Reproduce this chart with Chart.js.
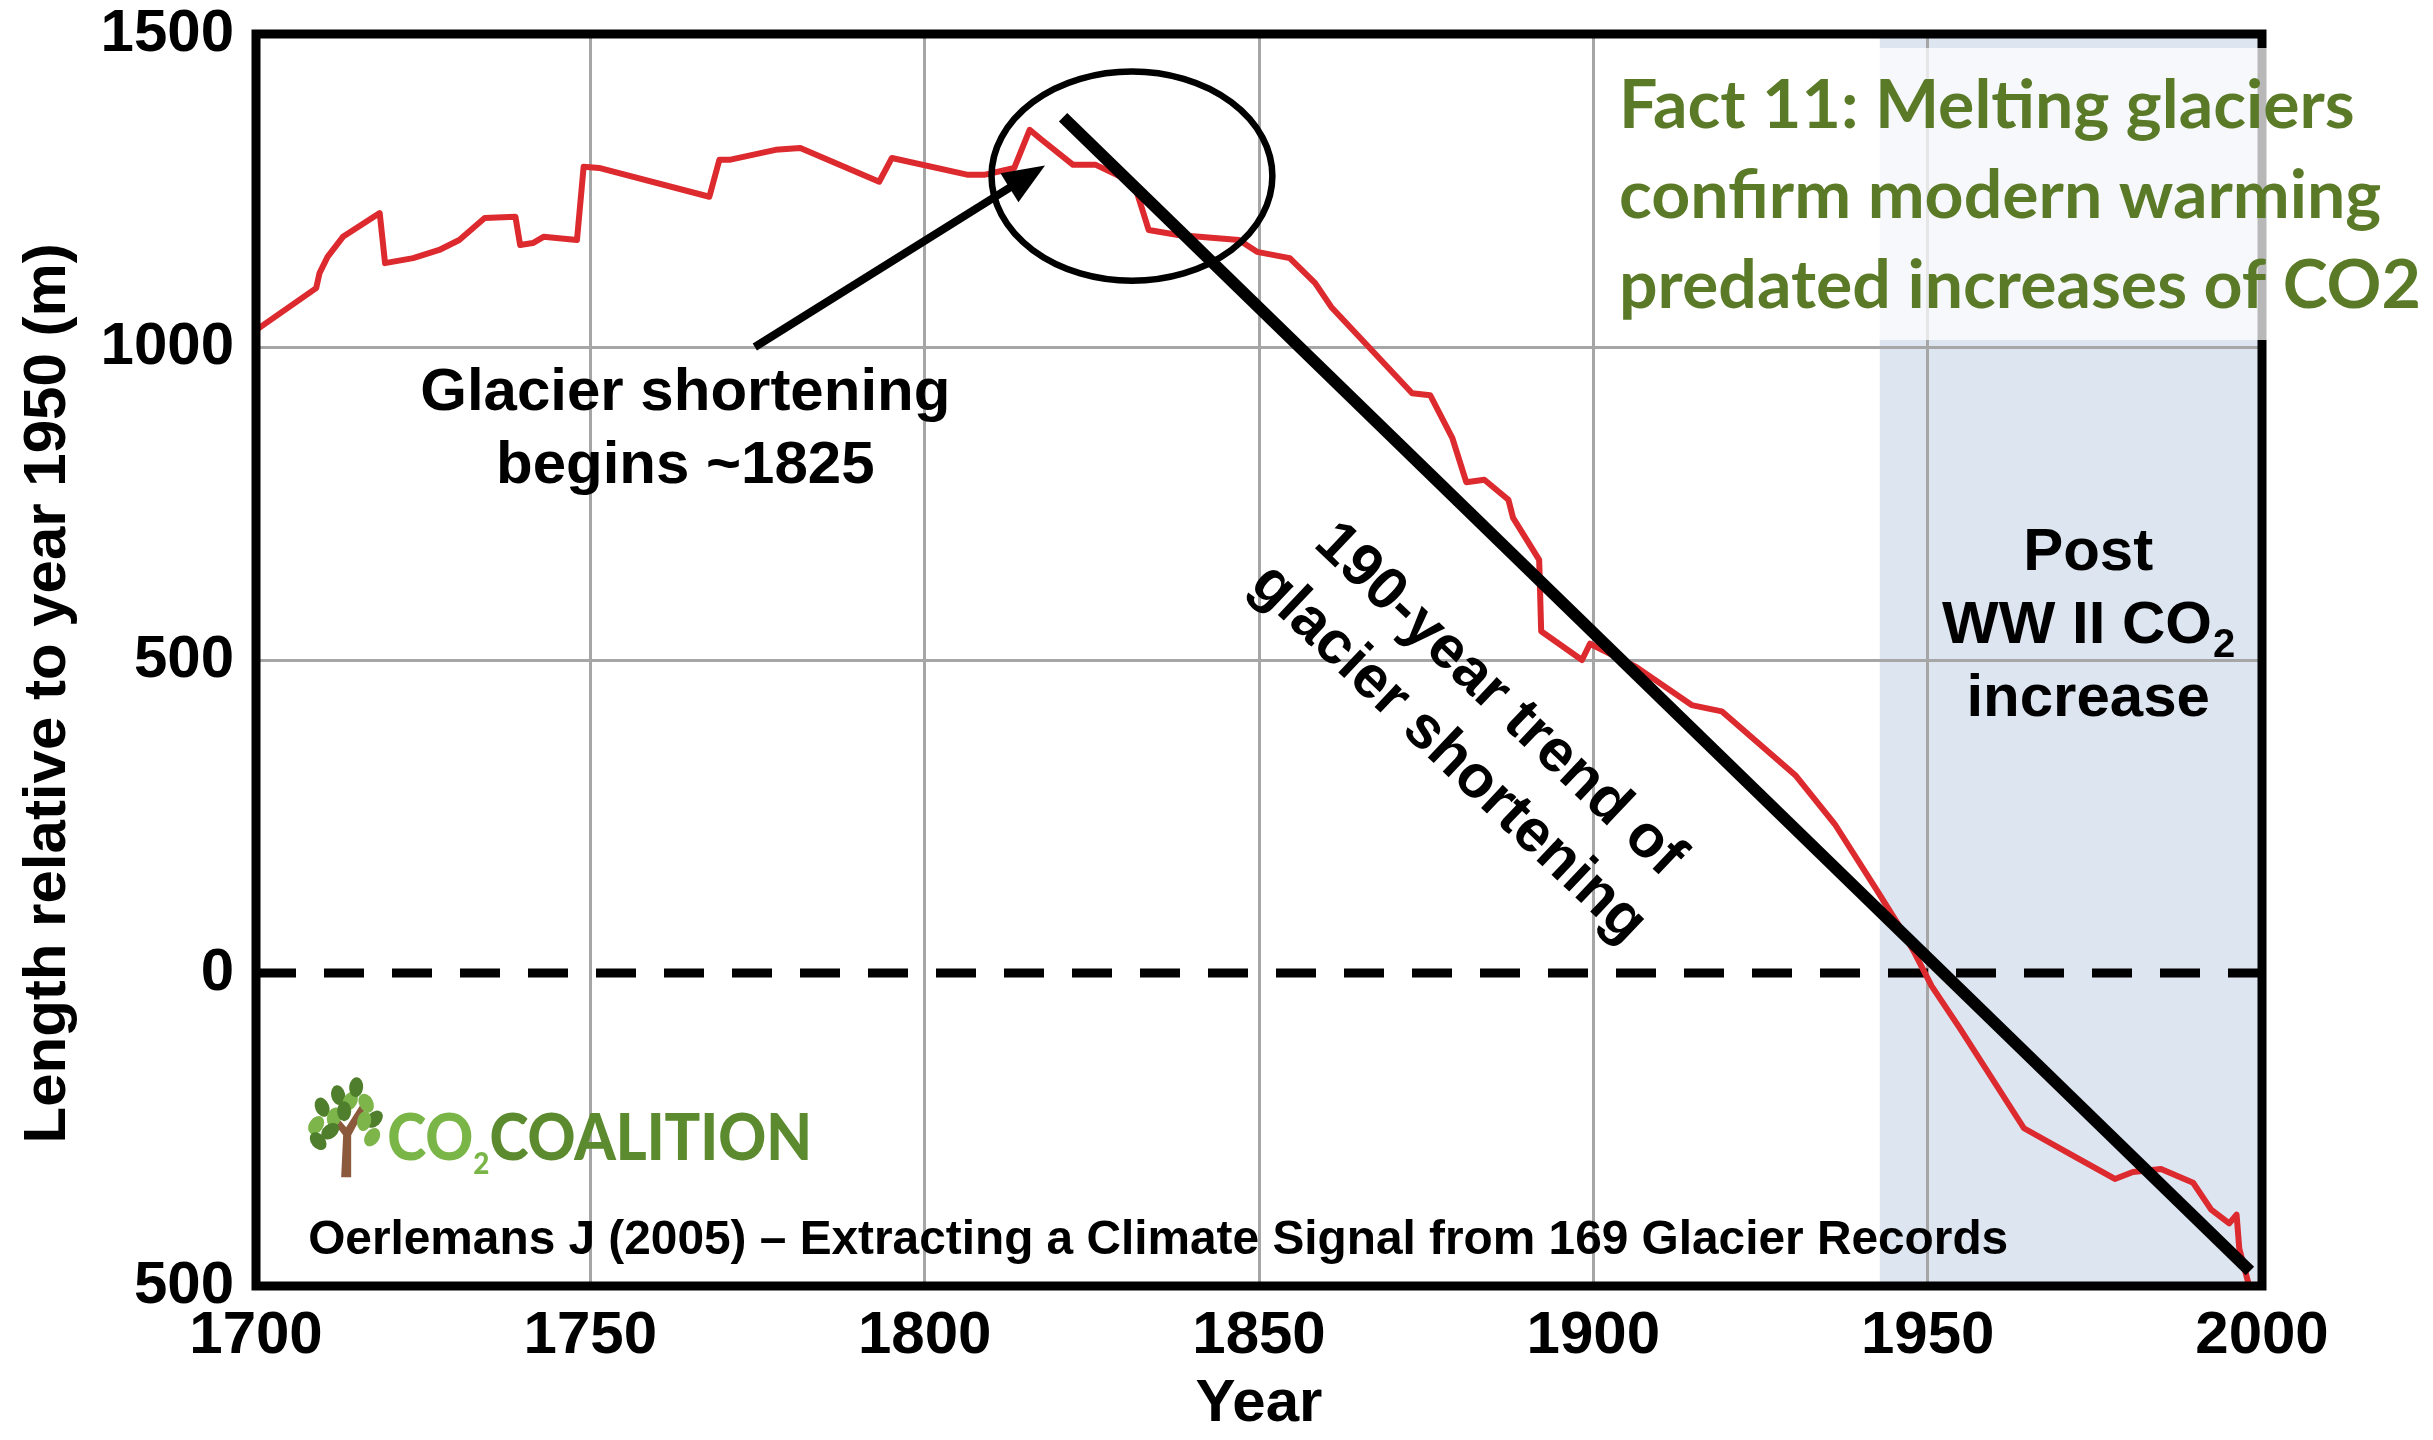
<!DOCTYPE html>
<html>
<head>
<meta charset="utf-8">
<title>Glacier length relative to 1950</title>
<script src="https://cdn.jsdelivr.net/npm/chart.js@4.4.1/dist/chart.umd.min.js"></script>
<style>
  html, body { margin: 0; padding: 0; background: #fff; }
  #wrap { width: 2433px; height: 1440px; }
</style>
</head>
<body>
<div id="wrap"><canvas id="glacierChart" width="2433" height="1440"></canvas></div>
<script>
// glacier length record (Oerlemans 2005)
const years = [1700, 1709, 1709.5, 1710.7, 1713, 1718.5, 1719.3, 1723.5, 1727.4, 1730.4,
  1734.2, 1738.8, 1739.5, 1741.4, 1743, 1748, 1749, 1751.3, 1767.8, 1769.3,
  1770.8, 1777.7, 1781.4, 1793.2, 1795.1, 1806.5, 1808.9, 1813.4, 1815.7, 1817.5,
  1822.2, 1825.6, 1831.3, 1833.5, 1837.9, 1847, 1849.7, 1854.6, 1858.4, 1860.8,
  1872.9, 1875.6, 1878.9, 1881, 1883.7, 1887.3, 1888, 1891.9, 1892.2, 1898.3,
  1899.5, 1906.4, 1914.7, 1919.2, 1930.3, 1936.1, 1942.3, 1945.8, 1948, 1950.6,
  1954.8, 1964.4, 1972.6, 1978, 1980.7, 1984.9, 1989.7, 1992.4, 1995.1, 1996.2,
  1996.6, 1998];
const lengths = [1027, 1094, 1118, 1144, 1176, 1214, 1134, 1142, 1155, 1171,
  1206, 1208, 1163, 1166, 1176, 1171, 1288, 1286, 1240, 1299,
  1299, 1315, 1318, 1264, 1302, 1275, 1275, 1286, 1347, 1331,
  1291, 1291, 1262, 1187, 1179, 1171, 1152, 1142, 1102, 1064,
  926, 923, 855, 784, 788, 756, 727, 660, 546, 500,
  526, 489, 428, 418, 315, 238, 134, 74, 33, -21,
  -88, -248, -297, -329, -318, -313, -335, -378, -400, -386,
  -440, -497];

// the 190-year straight trend
const trendYears = [1820.7, 1998.2];
const trendLengths = [1367, -476];

// shaded post-WWII period
const postWarYears = [1942.8, 2000];
const postWarTop = [1500, 1500];

// 1950 reference line
const zeroYears = [1700, 2000];
const zeroLengths = [0, 0];

const xTicks = [1700, 1750, 1800, 1850, 1900, 1950, 2000];
const xTickLabels = ['1700', '1750', '1800', '1850', '1900', '1950', '2000'];
const yTicks = [-500, 0, 500, 1000, 1500];
const yTickLabels = ['500', '0', '500', '1000', '1500'];

const titleLines = ['Fact 11: Melting glaciers', 'confirm modern warming', 'predated increases of CO2'];
const noteLines = ['Glacier shortening', 'begins ~1825'];
const trendLines = ['190-year trend of', 'glacier shortening'];
const citation = 'Oerlemans J (2005) \u2013 Extracting a Climate Signal from 169 Glacier Records';

const toPoints = (xs, ys) => xs.map((x, i) => ({ x: x, y: ys[i] }));
const ARIAL = '"Liberation Sans", Arial, sans-serif';
const GRID = '#a6a6a6';

Chart.defaults.font.family = ARIAL;
Chart.defaults.color = '#000';

function drawArrow(ctx, x0, y0, x1, y1) {
  const a = Math.atan2(y1 - y0, x1 - x0);
  const head = 42, half = 17;
  const c = Math.cos(a), s = Math.sin(a);
  ctx.lineWidth = 8;
  ctx.beginPath();
  ctx.moveTo(x0, y0);
  ctx.lineTo(x1 - c * head * 0.8, y1 - s * head * 0.8);
  ctx.stroke();
  ctx.beginPath();
  ctx.moveTo(x1, y1);
  ctx.lineTo(x1 - c * head + s * half, y1 - s * head - c * half);
  ctx.lineTo(x1 - c * head - s * half, y1 - s * head + c * half);
  ctx.closePath();
  ctx.fill();
}

function drawTree(ctx, bx, by) {
  // little tree of the CO2 Coalition logo, bx/by = foot of the trunk
  ctx.fillStyle = '#8b5a3c';
  ctx.beginPath();
  ctx.moveTo(bx - 5, by);
  ctx.lineTo(bx - 3, by - 42);
  ctx.lineTo(bx - 18, by - 62);
  ctx.lineTo(bx - 13, by - 65);
  ctx.lineTo(bx, by - 50);
  ctx.lineTo(bx + 14, by - 72);
  ctx.lineTo(bx + 19, by - 68);
  ctx.lineTo(bx + 5, by - 42);
  ctx.lineTo(bx + 5, by);
  ctx.closePath();
  ctx.fill();
  const leaves = [[-30, -52, 0.6, 0], [-24, -70, -0.4, 1], [-12, -60, 0.3, 0], [-8, -82, -0.2, 1],
    [4, -76, 0.5, 0], [10, -90, 0.1, 1], [20, -74, -0.5, 0], [28, -58, 0.8, 1], [18, -56, 0.2, 0],
    [-28, -36, -0.7, 1], [26, -40, 0.6, 0], [-2, -66, 0, 1], [-16, -46, 0.9, 1]];
  leaves.forEach(l => {
    ctx.fillStyle = l[3] ? '#4f7f2c' : '#7db54a';
    ctx.beginPath();
    ctx.ellipse(bx + l[0], by + l[1], 7, 10, l[2], 0, Math.PI * 2);
    ctx.fill();
  });
}

const annotations = {
  id: 'annotations',
  afterDatasetsDraw(chart) {
    const { ctx, chartArea: a, scales: { x, y } } = chart;
    ctx.save();

    // plot frame
    ctx.strokeStyle = '#000';
    ctx.lineWidth = 9;
    ctx.strokeRect(a.left, a.top, a.right - a.left, a.bottom - a.top);

    // circle round the turning point
    ctx.lineWidth = 6.5;
    ctx.beginPath();
    ctx.ellipse(x.getPixelForValue(1831), y.getPixelForValue(1273),
      x.getPixelForValue(1852) - x.getPixelForValue(1831),
      y.getPixelForValue(1273) - y.getPixelForValue(1440), 0, 0, Math.PI * 2);
    ctx.stroke();

    // arrow to the peak
    ctx.fillStyle = '#000';
    drawArrow(ctx, x.getPixelForValue(1774.6), y.getPixelForValue(1000),
      x.getPixelForValue(1818), y.getPixelForValue(1290));

    ctx.font = 'bold 60px ' + ARIAL;
    ctx.textAlign = 'center';
    ctx.textBaseline = 'alphabetic';
    const nx = x.getPixelForValue(1764.2), ny = y.getPixelForValue(899);
    noteLines.forEach((t, i) => ctx.fillText(t, nx, ny + i * 73));

    // Post WW II CO2 increase
    const px = x.getPixelForValue(1974), py = y.getPixelForValue(644);
    ctx.fillText('Post', px, py);
    ctx.font = 'bold 60px ' + ARIAL;
    const w1 = ctx.measureText('WW II CO').width;
    ctx.font = 'bold 40px ' + ARIAL;
    const w2 = ctx.measureText('2').width;
    ctx.textAlign = 'left';
    ctx.font = 'bold 60px ' + ARIAL;
    ctx.fillText('WW II CO', px - (w1 + w2) / 2, py + 73);
    ctx.font = 'bold 40px ' + ARIAL;
    ctx.fillText('2', px - (w1 + w2) / 2 + w1 + 1, py + 73 + 14);
    ctx.font = 'bold 60px ' + ARIAL;
    ctx.textAlign = 'center';
    ctx.fillText('increase', px, py + 146);

    // rotated trend label
    ctx.save();
    ctx.translate(x.getPixelForValue(1882.1), y.getPixelForValue(393));
    ctx.rotate(43.5 * Math.PI / 180);
    ctx.textBaseline = 'middle';
    ctx.fillText(trendLines[0], 0, -37);
    ctx.fillText(trendLines[1], 0, 37);
    ctx.restore();

    // source line
    ctx.textAlign = 'left';
    ctx.font = 'bold 48px ' + ARIAL;
    const cx = x.getPixelForValue(1707.8), cy = y.getPixelForValue(-449);
    const cw = ctx.measureText(citation).width;
    ctx.save();
    ctx.translate(cx, cy);
    ctx.scale(1700 / cw, 1);
    ctx.fillText(citation, 0, 0);
    ctx.restore();

    // CO2 Coalition logo
    const lx = x.getPixelForValue(1708.1), ly = y.getPixelForValue(-299);
    drawTree(ctx, lx + 36, ly + 17);
    const logoFont = s => '900 ' + s + 'px Lato, "Open Sans", sans-serif';
    ctx.font = logoFont(64);
    const wa = ctx.measureText('CO').width;
    const wc = ctx.measureText('COALITION').width;
    ctx.font = logoFont(30);
    const ws = ctx.measureText('2').width;
    const k = 425 / (wa + ws + wc);
    ctx.save();
    ctx.translate(lx + 77, ly);
    ctx.scale(k, 1);
    ctx.fillStyle = '#7ab547';
    ctx.font = logoFont(64);
    ctx.fillText('CO', 0, 0);
    ctx.font = logoFont(30);
    ctx.fillText('2', wa, 14);
    ctx.fillStyle = '#5b8a2f';
    ctx.font = logoFont(64);
    ctx.fillText('COALITION', wa + ws, 0);
    ctx.restore();

    ctx.restore();
  },
  afterDraw(chart) {
    const { ctx } = chart;
    ctx.save();
    ctx.fillStyle = 'rgba(255,255,255,0.72)';
    ctx.fillRect(1608, 48, 2433 - 1608, 292);
    ctx.fillStyle = '#5a7a28';
    ctx.font = 'bold 66px Lato, "Open Sans", sans-serif';
    ctx.textAlign = 'left';
    ctx.textBaseline = 'alphabetic';
    const k = 802 / ctx.measureText(titleLines[2]).width;
    titleLines.forEach((t, i) => {
      ctx.save();
      ctx.translate(1619, 128 + i * 90);
      ctx.scale(k, 1);
      ctx.fillText(t, 0, 0);
      ctx.restore();
    });
    ctx.restore();
  }
};

// keep the plot area where the figure has it: no extra label padding
const noPad = s => { s.paddingTop = 0; s.paddingBottom = 0; s.paddingLeft = 0; s.paddingRight = 0; };

new Chart(document.getElementById('glacierChart'), {
  type: 'line',
  data: {
    datasets: [
      {
        label: 'Trend',
        data: toPoints(trendYears, trendLengths),
        borderColor: '#000',
        borderWidth: 12,
        pointRadius: 0,
        fill: false
      },
      {
        label: 'Glacier length',
        data: toPoints(years, lengths),
        borderColor: '#dc2a2f',
        borderWidth: 6,
        borderJoinStyle: 'round',
        pointRadius: 0,
        tension: 0,
        fill: false
      },
      {
        label: '1950 level',
        data: toPoints(zeroYears, zeroLengths),
        borderColor: '#000',
        borderWidth: 9,
        borderDash: [40, 28],
        pointRadius: 0,
        fill: false
      },
      {
        label: 'Post WW II',
        data: toPoints(postWarYears, postWarTop),
        borderColor: 'rgba(0,0,0,0)',
        borderWidth: 0,
        backgroundColor: '#dde5f1',
        pointRadius: 0,
        fill: 'start'
      }
    ]
  },
  options: {
    responsive: false,
    animation: false,
    devicePixelRatio: 1,
    layout: { padding: { top: 34, right: 171, bottom: 0, left: 0 } },
    plugins: {
      legend: { display: false },
      tooltip: { enabled: false },
      filler: { drawTime: 'beforeDraw' }
    },
    scales: {
      x: {
        type: 'linear',
        min: 1700,
        max: 2000,
        afterBuildTicks: s => { s.ticks = xTicks.map(v => ({ value: v })); },
        afterFit: s => { s.height = 154; noPad(s); },
        ticks: {
          font: { size: 60, weight: 'bold', lineHeight: 1 },
          color: '#000',
          padding: 20,
          maxRotation: 0,
          autoSkip: false,
          callback: (v, i) => xTickLabels[i]
        },
        grid: {
          drawTicks: false,
          lineWidth: 3,
          color: c => (c.tick && c.tick.value > 1700 && c.tick.value < 2000) ? GRID : 'rgba(0,0,0,0)'
        },
        border: { display: false },
        title: {
          display: true,
          text: 'Year',
          font: { size: 60, weight: 'bold' },
          color: '#000',
          padding: { top: 0, bottom: 0 }
        }
      },
      y: {
        type: 'linear',
        min: -500,
        max: 1500,
        afterBuildTicks: s => { s.ticks = yTicks.map(v => ({ value: v })); },
        afterFit: s => { s.width = 256; noPad(s); },
        ticks: {
          font: { size: 60, weight: 'bold', lineHeight: 1 },
          color: '#000',
          padding: 22,
          callback: (v, i) => yTickLabels[i]
        },
        grid: {
          drawTicks: false,
          lineWidth: 3,
          color: c => (c.tick && (c.tick.value === 500 || c.tick.value === 1000)) ? GRID : 'rgba(0,0,0,0)'
        },
        border: { display: false },
        title: {
          display: true,
          text: 'Length relative to year 1950 (m)\u00a0\u00a0\u00a0\u00a0',
          font: { size: 60, weight: 'bold' },
          color: '#000',
          padding: { top: 12, bottom: 0 }
        }
      }
    }
  },
  plugins: [annotations]
});
</script>
</body>
</html>
